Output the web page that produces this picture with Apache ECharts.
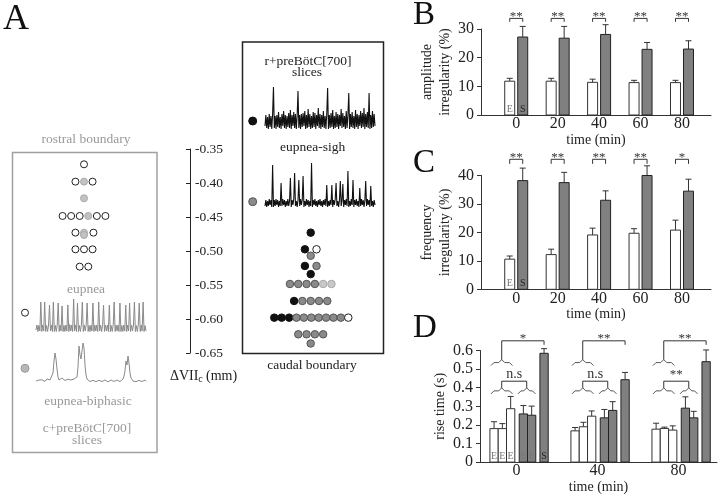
<!DOCTYPE html>
<html><head><meta charset="utf-8">
<script src="https://cdn.jsdelivr.net/npm/echarts@6/dist/echarts.min.js"></script>
<style>html,body{margin:0;padding:0;background:#fff}#c{width:720px;height:495px}</style>
</head><body><div id="c"></div>
<script>
// ---------- Panel B: amplitude irregularity (%) ----------
const bTimes = [0, 20, 40, 60, 80];
const bEupnea = [11.8, 11.8, 11.4, 11.3, 11.3];
const bEupneaErr = [1.0, 1.0, 1.1, 0.8, 0.8];
const bSigh = [27.2, 26.8, 28.1, 22.9, 23.0];
const bSighErr = [3.7, 4.1, 3.4, 2.4, 2.9];
const bStars = ['**', '**', '**', '**', '**'];
// ---------- Panel C: frequency irregularity (%) ----------
const cTimes = [0, 20, 40, 60, 80];
const cEupnea = [10.6, 12.2, 19.1, 19.7, 20.8];
const cEupneaErr = [1.1, 1.9, 2.4, 1.6, 3.5];
const cSigh = [38.2, 37.5, 31.3, 40.0, 34.5];
const cSighErr = [4.4, 3.6, 3.3, 3.4, 4.2];
const cStars = ['**', '**', '**', '**', '*'];
// ---------- Panel D: rise time (s) ----------
const dTimes = [0, 40, 80];
const dE1 = [0.180, 0.168, 0.177];
const dE1Err = [0.037, 0.018, 0.032];
const dE2 = [0.180, 0.190, 0.181];
const dE2Err = [0.027, 0.024, 0.007];
const dE3 = [0.287, 0.247, 0.172];
const dE3Err = [0.066, 0.028, 0.023];
const dE4 = [0.259, 0.238, 0.290];
const dE4Err = [0.045, 0.045, 0.061];
const dE5 = [0.252, 0.278, 0.238];
const dE5Err = [0.049, 0.047, 0.035];
const dS = [0.585, 0.443, 0.540];
const dSErr = [0.025, 0.039, 0.063];
const dTopStars = ['*', '**', '**'];
const dMidStars = ['n.s', 'n.s', '**'];
// tick labels
const bcTickLabels = [0, 20, 40, 60, 80];
const dTickLabels = [0, 40, 80];
// ---------- Panel A: dot plots [stack slot, ΔVIIc (mm)] ----------
const leftWhite = [[0,-0.3725],[-1,-0.398],[1,-0.398],[-2.5,-0.4485],[-1.5,-0.4485],[-0.5,-0.4485],[1.5,-0.4485],[2.5,-0.4485],[-1,-0.473],[1.1,-0.473],[-1,-0.4975],[0,-0.4975],[1,-0.4975],[-0.5,-0.523],[0.5,-0.523]];
const leftGray = [[0,-0.398],[0,-0.4225],[0.5,-0.4485],[0,-0.473],[0,-0.4765]];
const rightBlack = [[0,-0.473],[-0.7,-0.4975],[-0.7,-0.522],[0,-0.534],[-2,-0.5735],[-4.39,-0.598],[-3.5,-0.598],[-2.6,-0.598]];
const rightGray = [[0,-0.507],[0.7,-0.522],[-2.5,-0.5485],[-1.5,-0.5485],[-0.5,-0.5485],[0.5,-0.5485],[-1,-0.5735],[0,-0.5735],[1,-0.5735],[2,-0.5735],[-1.71,-0.598],[-0.82,-0.598],[0.07,-0.598],[0.96,-0.598],[1.85,-0.598],[2.74,-0.598],[3.64,-0.598],[-1.5,-0.6225],[-0.5,-0.6225],[0.5,-0.6225],[1.5,-0.6225],[0,-0.636]];
const rightLight = [[1.5,-0.5485],[2.5,-0.5485]];
const rightWhite = [[0.7,-0.4975],[4.53,-0.598]];
// ---------- Panel A: example traces (relative amplitude) ----------
const eupneaTrace = [
 -2,3,-3.5,2.5,-3,
 26,-3.5,3,-3,
 26,-3.5,2.5,-3.5,3,
 23,-3,3,-3.5,
 26,-3.5,2.5,-3.5,3,
 25,-3.5,3,-3,
 22,-3.5,2.5,-3.5,3,-3,
 23,-3.5,3.5,-3,3,-3.5,
 29,-3,3,-3.5,
 25,-3.5,2.5,-3.5,3,
 26,-3.5,3,-3,3,
 25,-3.5,2.5,-3.5,3,-3,
 25,-3.5,3,-3,3,-3.5,
 26,-3,3,-3.5,2.5,
 23,-3.5,3,-3,3,-3.5,
 23,-3.5,2.5,-3.5,3,
 26,-3.5,3,-3,3,-3.5,
 25,-3.5,2.5,-3.5,3,-3,
 23,-3.5,3,-3,
 25,-3.5,3,-3,3,
 26,-3.5,2.5,-3.5,3,
 25,-3.5,3,-3,
 26,-3.5,2.5,-3
];
const biphasicTrace = [
 0,0.8,-0.5,1,-0.8,0.5,1.2,-0.6,0.9,-0.4,0.8,
 2,1.5,3,1,0.5,2,
 8,20,28,22,12,4,1,2.5,
 1.5,3,1,2.5,0.5,2,1,1.8,0.6,2.2,1,1.5,0.4,2,1,1.6,
 4,14,35,26,22,30,38,33,16,6,2,1,
 0.5,-0.6,1,-0.8,0.7,-0.5,1.2,-0.7,0.4,-0.9,0.8,-0.4,1,-0.6,0.6,-0.8,1.1,-0.5,0.7,-0.9,0.5,-0.4,1,-0.7,0.8,-0.5,0.6,-0.8,1,-0.4,0.7,-0.6,1.2,0.3,
 2,5,10,20,16,25,18,8,3,1,0,
 -0.5,0.8,-0.7,1,-0.4,0.6,-0.8,0.9,-0.5,0.7,-0.6,1,-0.3
];
const rTrace = [
 -5,6,-7,4,-8,7,-6,5,-8,7,
 34,-7,5,-8,6,-6,9,-7,4,-8,
 7,-5,10,-7,6,-8,5,-6,8,-7,
 11,-8,6,-5,9,-7,7,-8,5,30,
 -7,6,-8,7,-6,8,-5,10,-8,6,
 -7,12,-6,7,-8,5,-7,9,-6,8,
 -8,6,-5,13,-7,7,-8,6,-6,10,
 -7,5,-8,7,33,-8,6,-7,8,-6,
 11,-8,5,-7,9,-6,7,-8,6,-5,
 12,-7,8,-6,5,-8,10,-7,6,28,
 -8,7,-6,9,-7,5,-8,11,-6,7,
 -8,6,-5,10,-7,8,-6,13,-8,7,
 -6,9,-7,28,-8,6,-7,10,-6,7,-5
];
const sighTrace = [
 -3,3,-4,2,-3,4,-2,3,-4,38,
 -4,3,-3,4,-2,3,-4,2,-3,20,
 -3,4,-2,3,-4,2,-3,4,-3,2,
 25,-4,3,-2,4,30,-3,2,-4,3,
 23,-3,4,-2,3,27,-4,2,-3,4,
 -2,3,-4,2,-3,40,-4,3,-2,4,
 -3,2,-4,3,-2,4,-3,2,-4,3,
 -2,4,-3,18,-4,2,-3,3,-2,18,
 -4,3,-2,4,20,-3,2,-4,3,22,
 -3,2,19,-4,3,-2,4,-3,32,-4,
 2,-3,4,-2,23,-4,3,-2,4,-3,
 2,-4,15,-3,4,-2,3,-4,2,22,
 -3,4,-2,3,-4,17,-3,2,-4,3,-2
];

const FF = '"Liberation Serif", "Times New Roman", serif';
const AX = '#333';

function barSeries(ax, times, means, errs, off, w, fill, stroke, tag) {
  return {
    type: 'custom', xAxisIndex: ax, yAxisIndex: ax, clip: false, z: 3,
    data: times.map((t, i) => [t, means[i], errs[i]]),
    encode: { x: 0, y: 1 },
    renderItem: (params, api) => {
      const t = api.value(0), m = api.value(1), e = api.value(2);
      const b = api.coord([t, 0]), p = api.coord([t, m]), q = api.coord([t, m + e]);
      const cx = b[0] + off;
      const ch = [
        { type: 'line', shape: { x1: cx, y1: p[1], x2: cx, y2: q[1] }, style: { stroke: '#333', fill: 'none', lineWidth: 1 } },
        { type: 'line', shape: { x1: cx - 3, y1: q[1], x2: cx + 3, y2: q[1] }, style: { stroke: '#333', fill: 'none', lineWidth: 1 } },
        { type: 'rect', shape: { x: cx - w / 2, y: p[1], width: w, height: b[1] - p[1] }, style: { fill: fill, stroke: stroke, lineWidth: 1 } }
      ];
      if (tag && params.dataIndex === 0) {
        ch.push({ type: 'text', z2: 5, style: { text: tag, x: cx, y: b[1] - 6, align: 'center', verticalAlign: 'middle', font: '10px ' + FF, fill: tag === 'S' ? '#222' : '#777' } });
      }
      return { type: 'group', children: ch };
    }
  };
}

function starSeries(ax, times, stars, yVal, legVal, offL, offR) {
  return {
    type: 'custom', xAxisIndex: ax, yAxisIndex: ax, clip: false, z: 4,
    data: times.map(t => [t, yVal]),
    encode: { x: 0, y: 1 },
    renderItem: (params, api) => {
      const t = api.value(0);
      const a = api.coord([t, yVal]), l = api.coord([t, legVal]);
      const x1 = a[0] + offL, x2 = a[0] + offR, y = a[1], yl = l[1];
      return { type: 'group', children: [
        { type: 'polyline', shape: { points: [[x1, yl], [x1, y], [x2, y], [x2, yl]] }, style: { stroke: '#333', fill: 'none', lineWidth: 1 } },
        { type: 'text', style: { text: stars[params.dataIndex], x: (x1 + x2) / 2, y: y - 2, align: 'center', verticalAlign: 'middle', font: '13px ' + FF, fill: '#333' } }
      ]};
    }
  };
}

function brace(xa, xb, y) {
  const xm = (xa + xb) / 2;
  return { type: 'polyline', shape: { points: [[xa, y + 3], [xa + 3, y], [xm - 3, y], [xm, y - 3], [xm + 3, y], [xb - 3, y], [xb, y + 3]] }, style: { stroke: '#555', fill: 'none', lineWidth: 1 } };
}

function dSigSeries() {
  return {
    type: 'custom', xAxisIndex: 2, yAxisIndex: 2, clip: false, z: 4,
    data: dTimes.map(t => [t, 0.652]),
    encode: { x: 0, y: 1 },
    renderItem: (params, api) => {
      const t = api.value(0);
      const cx = api.coord([t, 0])[0];
      const yTop = api.coord([t, 0.652])[1], yTB = api.coord([t, 0.535])[1];
      const yMid = api.coord([t, 0.435])[1], yLB = api.coord([t, 0.383])[1];
      const b1a = cx - 25.5, b1b = cx - 4, b1c = (b1a + b1b) / 2;
      const b2a = cx + 1.5, b2b = cx + 19, b2c = (b2a + b2b) / 2;
      const sx = cx + 27.6;
      const st = { stroke: '#333', fill: 'none', lineWidth: 1 };
      return { type: 'group', children: [
        brace(b1a, b1b, yTB), brace(b1a, b1b, yLB), brace(b2a, b2b, yLB),
        { type: 'polyline', shape: { points: [[b1c, yTB - 3], [b1c, yTop], [sx, yTop], [sx, yTop + 4]] }, style: st },
        { type: 'polyline', shape: { points: [[b1c, yLB - 3], [b1c, yMid], [b2c, yMid], [b2c, yLB - 3]] }, style: st },
        { type: 'text', style: { text: dTopStars[params.dataIndex], x: (b1c + sx) / 2, y: yTop - 2, align: 'center', verticalAlign: 'middle', font: '13px ' + FF, fill: '#333' } },
        { type: 'text', style: { text: dMidStars[params.dataIndex], x: (b1c + b2c) / 2, y: yMid - 7, align: 'center', verticalAlign: 'middle', font: (dMidStars[params.dataIndex] === 'n.s' ? '14px ' : '13px ') + FF, fill: '#333' } }
      ]};
    }
  };
}

function yAx(gi, min, max, interval, fmt, name, gap) {
  return {
    type: 'value', gridIndex: gi, min: min, max: max, interval: interval,
    axisLine: { show: true, onZero: false, lineStyle: { color: AX, width: 1 } },
    axisTick: { show: true, length: 4, lineStyle: { color: AX } },
    axisLabel: { color: '#222', fontSize: 16, fontFamily: FF, margin: 7, formatter: fmt },
    splitLine: { show: false },
    name: name, nameLocation: 'middle', nameGap: gap, nameRotate: 90,
    nameTextStyle: { fontSize: 14, fontFamily: FF, color: '#222', lineHeight: 18 }
  };
}
function xAx(gi, min, max, labels, gap) {
  return {
    type: 'value', gridIndex: gi, min: min, max: max, interval: 1,
    axisLine: { show: true, onZero: false, lineStyle: { color: AX, width: 1 } },
    axisTick: { show: false },
    axisLabel: { color: '#222', fontSize: 16, fontFamily: FF, margin: 1, formatter: v => labels.indexOf(v) >= 0 ? String(v) : '' },
    splitLine: { show: false },
    name: 'time (min)', nameLocation: 'middle', nameGap: gap,
    nameTextStyle: { fontSize: 14, fontFamily: FF, color: '#222' }
  };
}
function hiddenVal(gi, min, max) { return { type: 'value', gridIndex: gi, min: min, max: max, show: false, axisLine: { onZero: false }, splitLine: { show: false } }; }
function hiddenCat(gi, arr) { return { type: 'category', gridIndex: gi, data: arr.map((_, i) => i), boundaryGap: false, show: false, axisLine: { onZero: false } }; }
function trace(gi, arr, color, w) {
  return { type: 'line', xAxisIndex: gi, yAxisIndex: gi, data: arr, symbol: 'none', lineStyle: { color: color, width: w || 1 }, clip: false };
}
function dots(gi, arr, size, fill, stroke) {
  return { type: 'scatter', xAxisIndex: gi, yAxisIndex: gi, data: arr, symbol: 'circle', symbolSize: size, clip: false, z: 3,
    itemStyle: { color: fill, borderColor: stroke, borderWidth: 1, opacity: 1 } };
}

const grids = [
  { left: 481, top: 29, width: 230, height: 86 },          // 0 B
  { left: 481, top: 175.5, width: 230, height: 113.8 },    // 1 C
  { left: 480, top: 350.5, width: 239, height: 114.5 },    // 2 D
  { left: 190, top: 149, width: 20, height: 204 },         // 3 A axis
  { left: 12, top: 149, width: 144, height: 204 },         // 4 left dots
  { left: 242, top: 149, width: 137.4, height: 204 },      // 5 right dots
  { left: 36, top: 298, width: 110, height: 34 },          // 6 eupnea
  { left: 36, top: 343, width: 110, height: 42 },          // 7 biphasic
  { left: 265, top: 85, width: 110, height: 46 },          // 8 r+preBotC
  { left: 265, top: 160, width: 110, height: 50 }          // 9 sigh
];

const xAxes = [
  xAx(0, -17, 94, bcTickLabels, 15),
  xAx(1, -17, 94, bcTickLabels, 8),
  xAx(2, -18, 99, dTickLabels, 15),
  hiddenVal(3, 0, 1),
  hiddenVal(4, -8.4, 8.4),
  hiddenVal(5, -8.28, 8.28),
  hiddenCat(6, eupneaTrace),
  hiddenCat(7, biphasicTrace),
  hiddenCat(8, rTrace),
  hiddenCat(9, sighTrace)
];
const yAxes = [
  yAx(0, 0, 30, 10, v => String(v), 'amplitude\nirregularity (%)', 23),
  yAx(1, 0, 40, 10, v => String(v), 'frequency\nirregularity (%)', 23),
  yAx(2, 0, 0.6, 0.1, v => (v === 0 ? '0' : v.toFixed(1)), 'rise time (s)', 29),
  {
    type: 'value', gridIndex: 3, min: -0.65, max: -0.35, interval: 0.05, position: 'left',
    axisLine: { show: true, onZero: false, lineStyle: { color: '#222', width: 1 } },
    axisTick: { show: true, inside: false, length: 4, lineStyle: { color: '#222' } },
    axisLabel: { inside: true, margin: 5, color: '#222', fontSize: 13.5, fontFamily: FF, formatter: v => v.toFixed(2) },
    splitLine: { show: false }
  },
  hiddenVal(4, -0.65, -0.35),
  hiddenVal(5, -0.65, -0.35),
  hiddenVal(6, -4, 30),
  hiddenVal(7, -4, 38),
  hiddenVal(8, -10, 36),
  hiddenVal(9, -7, 43)
];

const series = [
  barSeries(0, bTimes, bEupnea, bEupneaErr, -6.5, 10, '#ffffff', '#333', 'E'),
  barSeries(0, bTimes, bSigh, bSighErr, 6.5, 10, '#808080', '#222', 'S'),
  starSeries(0, bTimes, bStars, 33.7, 32.5, -6.5, 6.5),
  barSeries(1, cTimes, cEupnea, cEupneaErr, -6.5, 10, '#ffffff', '#333', 'E'),
  barSeries(1, cTimes, cSigh, cSighErr, 6.5, 10, '#808080', '#222', 'S'),
  starSeries(1, cTimes, cStars, 45.7, 44.1, -6.5, 6.5),
  barSeries(2, dTimes, dE1, dE1Err, -22.4, 8.3, '#ffffff', '#333', 'E'),
  barSeries(2, dTimes, dE2, dE2Err, -14.1, 8.3, '#ffffff', '#333', 'E'),
  barSeries(2, dTimes, dE3, dE3Err, -5.8, 8.3, '#ffffff', '#333', 'E'),
  barSeries(2, dTimes, dE4, dE4Err, 6.9, 8.3, '#808080', '#222', 'E'),
  barSeries(2, dTimes, dE5, dE5Err, 15.2, 8.3, '#808080', '#222', 'E'),
  barSeries(2, dTimes, dS, dSErr, 27.6, 8.3, '#808080', '#222', 'S'),
  dSigSeries(),
  dots(4, leftWhite, 7, '#ffffff', '#222'),
  dots(4, leftGray, 7, '#c2c2c2', '#aaaaaa'),
  dots(5, rightBlack, 7.5, '#111111', '#111111'),
  dots(5, rightGray, 7.5, '#8a8a8a', '#555555'),
  dots(5, rightLight, 7.5, '#c8c8c8', '#a8a8a8'),
  dots(5, rightWhite, 7.5, '#ffffff', '#222'),
  trace(6, eupneaTrace, '#8a8a8a', 1),
  trace(7, biphasicTrace, '#8a8a8a', 1),
  trace(8, rTrace, '#111', 1.1),
  trace(9, sighTrace, '#111', 1.1)
];

function txt(x, y, text, size, color, align) {
  return { type: 'text', x: x, y: y, silent: true, style: { text: text, font: size + 'px ' + FF, fill: color, align: align || 'center', verticalAlign: 'middle' } };
}
const GRAY = '#999';
const graphic = [
  { type: 'rect', shape: { x: 12.5, y: 152.5, width: 144.5, height: 300 }, style: { fill: 'none', stroke: '#a0a0a0', lineWidth: 1.5 }, silent: true },
  { type: 'rect', shape: { x: 242.5, y: 42, width: 141, height: 311.5 }, style: { fill: 'none', stroke: '#222', lineWidth: 1.5 }, silent: true },
  txt(3, 20, 'A', 36, '#111', 'left'),
  txt(413, 15, 'B', 33, '#111', 'left'),
  txt(413, 163, 'C', 33, '#111', 'left'),
  txt(413, 328, 'D', 33, '#111', 'left'),
  txt(86, 139, 'rostral boundary', 13.5, GRAY),
  txt(86, 289, 'eupnea', 13.5, GRAY),
  txt(88, 401, 'eupnea-biphasic', 13.5, GRAY),
  txt(87, 428, 'c+preBötC[700]', 13.5, GRAY),
  txt(87, 440, 'slices', 13.5, GRAY),
  txt(308, 61.7, 'r+preBötC[700]', 13.5, '#222'),
  txt(307, 72.5, 'slices', 13.5, '#222'),
  txt(312.7, 147.3, 'eupnea-sigh', 13.5, '#222'),
  txt(312, 365, 'caudal boundary', 13.5, '#222'),
  txt(170, 376, 'ΔVII', 14, '#222', 'left'),
  txt(198.3, 379.5, 'c', 10, '#222', 'left'),
  txt(202.5, 376, ' (mm)', 14, '#222', 'left'),
  { type: 'circle', shape: { cx: 25, cy: 312.7, r: 3.5 }, style: { fill: '#fff', stroke: '#222', lineWidth: 1 }, silent: true },
  { type: 'circle', shape: { cx: 25, cy: 368.3, r: 4 }, style: { fill: '#b8b8b8', stroke: '#999', lineWidth: 1 }, silent: true },
  { type: 'circle', shape: { cx: 252.7, cy: 121, r: 4 }, style: { fill: '#111', stroke: '#111', lineWidth: 1 }, silent: true },
  { type: 'circle', shape: { cx: 252.7, cy: 201.7, r: 4 }, style: { fill: '#8a8a8a', stroke: '#555', lineWidth: 1 }, silent: true }
];

const chart = echarts.init(document.getElementById('c'), null, { renderer: 'canvas' });
chart.setOption({
  animation: false,
  backgroundColor: '#ffffff',
  textStyle: { fontFamily: FF },
  grid: grids, xAxis: xAxes, yAxis: yAxes, series: series, graphic: graphic
});
</script>
</body></html>
